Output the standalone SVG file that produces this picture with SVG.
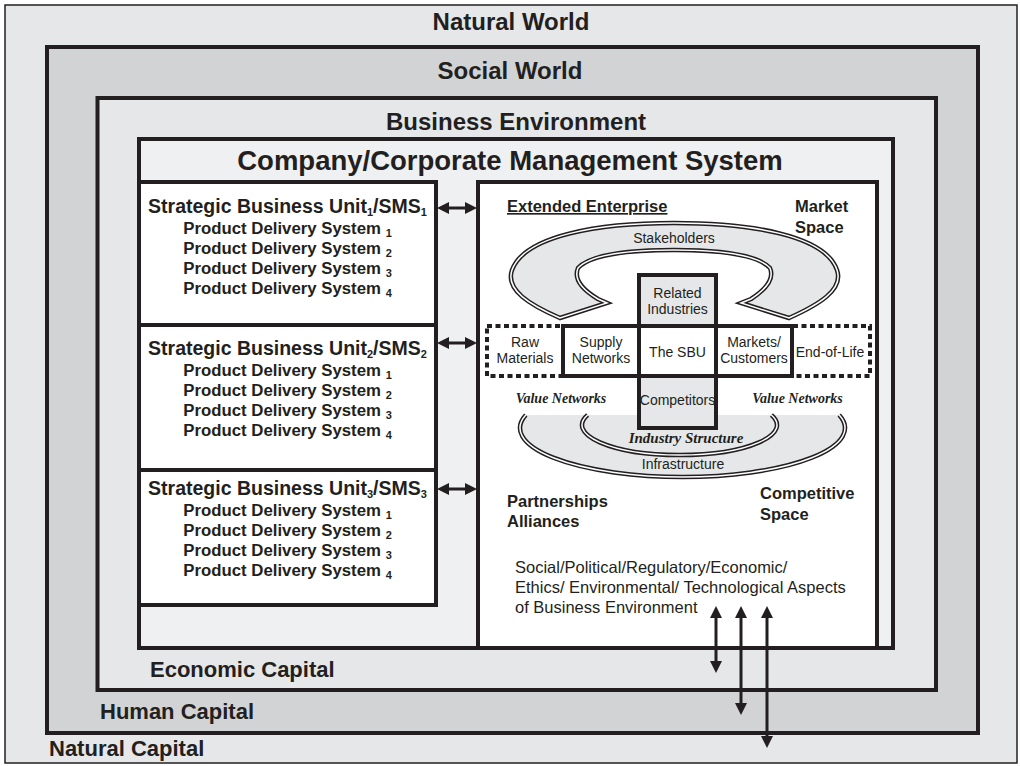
<svg xmlns="http://www.w3.org/2000/svg" width="1020" height="766" viewBox="0 0 1020 766">
<defs>
<style>
.frame{stroke:#231f20;stroke-width:4}
.t{font-family:'Liberation Sans',Arial,sans-serif;fill:#231f20}
.ttl{font-size:24px;font-weight:bold;text-anchor:middle}
.cap{font-size:22px;font-weight:bold}
.sbu{font-size:19.5px;font-weight:bold;text-anchor:middle}
.pds{font-size:16.8px;font-weight:bold;text-anchor:middle}
.lbl{font-size:14px;text-anchor:middle}
.bl{font-size:16.5px;font-weight:bold}
.env{font-size:16.5px}
.vn{font-family:'Liberation Serif','Times New Roman',serif;font-style:italic;font-weight:bold;font-size:14px;fill:#231f20;text-anchor:middle}
.dbl1{fill:none;stroke:#231f20;stroke-width:4.5}
.dbl2{fill:none;stroke:#ffffff;stroke-width:1.5}
.conn{stroke:#231f20;stroke-width:3;fill:none}
.gray{fill:#e6e7e8}
</style>
<marker id="ah" markerUnits="userSpaceOnUse" markerWidth="14" markerHeight="12" refX="8" refY="6" orient="auto-start-reverse"><path d="M0,0 L12,6 L0,12 z" fill="#231f20"/></marker>
<path id="stk" d="M560,318 C530,305 505,290 512,270 C525,235 600,223 674,223 C750,223 825,235 837,270 C844,290 818,305 789,318 L741,303 L751,299 C765,290 775,280 770,268 C758,255 720,250 674,250 C628,250 590,255 578,268 C573,280 583,290 598,299 L607,303 Z"/>
<path id="infO" d="M525.8,415 A162.5,49 0 1,0 839.2,415"/>
<path id="infI" d="M587.6,415 A97.5,30 0 1,0 771.4,415"/>
</defs>

<g id="natural-world">
<rect x="5" y="5" width="1012" height="758" fill="#e6e7e8" stroke="#231f20" stroke-width="1.5"/>
<text class="t ttl" x="511" y="30">Natural World</text>
<text class="t cap" x="49" y="756">Natural Capital</text>
</g>
<g id="social-world">
<rect class="frame" x="47" y="47" width="931" height="686" fill="#d1d3d4"/>
<text class="t ttl" x="510" y="79">Social World</text>
<text class="t cap" x="100" y="719">Human Capital</text>
</g>
<g id="business-environment">
<rect class="frame" x="97.5" y="98" width="838.5" height="592" fill="#e6e7e8"/>
<text class="t ttl" x="516" y="130">Business Environment</text>
<text class="t cap" x="150" y="677">Economic Capital</text>
</g>
<g id="company">
<rect class="frame" x="139" y="139" width="754" height="509" fill="#eff0f1"/>
<text class="t ttl" x="510" y="170" style="font-size:27.5px">Company/Corporate Management System</text>
</g>

<g id="sbu1">
<rect class="frame" x="139" y="182" width="297" height="143" fill="#ffffff"/>
<text class="t sbu" x="287.5" y="213">Strategic Business Unit<tspan dy="3" font-size="11">1</tspan><tspan dy="-3">/SMS</tspan><tspan dy="3" font-size="11">1</tspan></text>
<text class="t pds" x="287.5" y="234">Product Delivery System <tspan dy="3" font-size="11">1</tspan></text>
<text class="t pds" x="287.5" y="254">Product Delivery System <tspan dy="3" font-size="11">2</tspan></text>
<text class="t pds" x="287.5" y="274">Product Delivery System <tspan dy="3" font-size="11">3</tspan></text>
<text class="t pds" x="287.5" y="294">Product Delivery System <tspan dy="3" font-size="11">4</tspan></text>
</g>
<g id="sbu2">
<rect class="frame" x="139" y="325" width="297" height="145" fill="#ffffff"/>
<text class="t sbu" x="287.5" y="355">Strategic Business Unit<tspan dy="3" font-size="11">2</tspan><tspan dy="-3">/SMS</tspan><tspan dy="3" font-size="11">2</tspan></text>
<text class="t pds" x="287.5" y="376">Product Delivery System <tspan dy="3" font-size="11">1</tspan></text>
<text class="t pds" x="287.5" y="396">Product Delivery System <tspan dy="3" font-size="11">2</tspan></text>
<text class="t pds" x="287.5" y="416">Product Delivery System <tspan dy="3" font-size="11">3</tspan></text>
<text class="t pds" x="287.5" y="436">Product Delivery System <tspan dy="3" font-size="11">4</tspan></text>
</g>
<g id="sbu3">
<rect class="frame" x="139" y="470" width="297" height="135" fill="#ffffff"/>
<text class="t sbu" x="287.5" y="495">Strategic Business Unit<tspan dy="3" font-size="11">3</tspan><tspan dy="-3">/SMS</tspan><tspan dy="3" font-size="11">3</tspan></text>
<text class="t pds" x="287.5" y="516">Product Delivery System <tspan dy="3" font-size="11">1</tspan></text>
<text class="t pds" x="287.5" y="536">Product Delivery System <tspan dy="3" font-size="11">2</tspan></text>
<text class="t pds" x="287.5" y="556">Product Delivery System <tspan dy="3" font-size="11">3</tspan></text>
<text class="t pds" x="287.5" y="576">Product Delivery System <tspan dy="3" font-size="11">4</tspan></text>
</g>

<g id="extended-enterprise">
<rect class="frame" x="478" y="182" width="399" height="466" fill="#ffffff"/>
<text class="t bl" x="507" y="212" text-decoration="underline">Extended Enterprise</text>
<text class="t bl" x="795" y="212">Market</text>
<text class="t bl" x="795" y="233">Space</text>
<text class="t bl" x="507" y="507">Partnerships</text>
<text class="t bl" x="507" y="527">Alliances</text>
<text class="t bl" x="760" y="499">Competitive</text>
<text class="t bl" x="760" y="520">Space</text>
<text class="t env" x="515" y="573">Social/Political/Regulatory/Economic/</text>
<text class="t env" x="515" y="593">Ethics/ Environmental/ Technological Aspects</text>
<text class="t env" x="515" y="613">of Business Environment</text>
</g>

<g id="stakeholders">
<use href="#stk" class="gray" stroke="#231f20" stroke-width="4.5"/>
<use href="#stk" fill="none" stroke="#ffffff" stroke-width="1.5"/>
<text class="t lbl" x="674" y="243">Stakeholders</text>
</g>

<g id="infrastructure">
<path d="M525.8,415 A162.5,49 0 1,0 839.2,415 Z" class="gray"/>
<use href="#infO" class="dbl1"/>
<use href="#infO" class="dbl2"/>
<use href="#infI" class="dbl1"/>
<use href="#infI" class="dbl2"/>
<text class="vn" x="686" y="443" style="font-size:15px">Industry Structure</text>
<text class="t lbl" x="683" y="469">Infrastructure</text>
</g>

<g id="value-networks">
<text class="vn" x="561" y="403">Value Networks</text>
<text class="vn" x="797.5" y="403">Value Networks</text>
</g>

<g id="raw-materials">
<text class="t lbl" x="525" y="347">Raw</text>
<text class="t lbl" x="525" y="363">Materials</text>
</g>
<g id="end-of-life">
<text class="t lbl" x="830" y="357">End-of-Life</text>
</g>
<rect x="487" y="326" width="383" height="50" fill="none" stroke="#231f20" stroke-width="4" stroke-dasharray="5 3.5"/>

<g id="supply-networks">
<rect class="frame" x="563" y="326" width="76" height="50" fill="#ffffff"/>
<text class="t lbl" x="601" y="347">Supply</text>
<text class="t lbl" x="601" y="363">Networks</text>
</g>
<g id="markets-customers">
<rect class="frame" x="716" y="326" width="76" height="50" fill="#ffffff"/>
<text class="t lbl" x="754" y="347">Markets/</text>
<text class="t lbl" x="754" y="363">Customers</text>
</g>
<g id="related-industries">
<rect class="frame" x="639" y="275" width="77" height="51" fill="#e6e7e8"/>
<text class="t lbl" x="677.5" y="298">Related</text>
<text class="t lbl" x="677.5" y="314">Industries</text>
</g>
<g id="the-sbu">
<rect class="frame" x="639" y="326" width="77" height="50" fill="#ffffff"/>
<text class="t lbl" x="677.5" y="357">The SBU</text>
</g>
<g id="competitors">
<rect class="frame" x="639" y="376" width="77" height="52" fill="#e6e7e8"/>
<text class="t lbl" x="677.5" y="405">Competitors</text>
</g>

<g id="connectors">
<line class="conn" x1="441" y1="208" x2="473" y2="208" marker-start="url(#ah)" marker-end="url(#ah)"/>
<line class="conn" x1="441" y1="343" x2="473" y2="343" marker-start="url(#ah)" marker-end="url(#ah)"/>
<line class="conn" x1="441" y1="489" x2="473" y2="489" marker-start="url(#ah)" marker-end="url(#ah)"/>
<line class="conn" x1="716" y1="610" x2="716" y2="669" marker-start="url(#ah)" marker-end="url(#ah)"/>
<line class="conn" x1="741" y1="610" x2="741" y2="711" marker-start="url(#ah)" marker-end="url(#ah)"/>
<line class="conn" x1="767" y1="610" x2="767" y2="744" marker-start="url(#ah)" marker-end="url(#ah)"/>
</g>
</svg>
